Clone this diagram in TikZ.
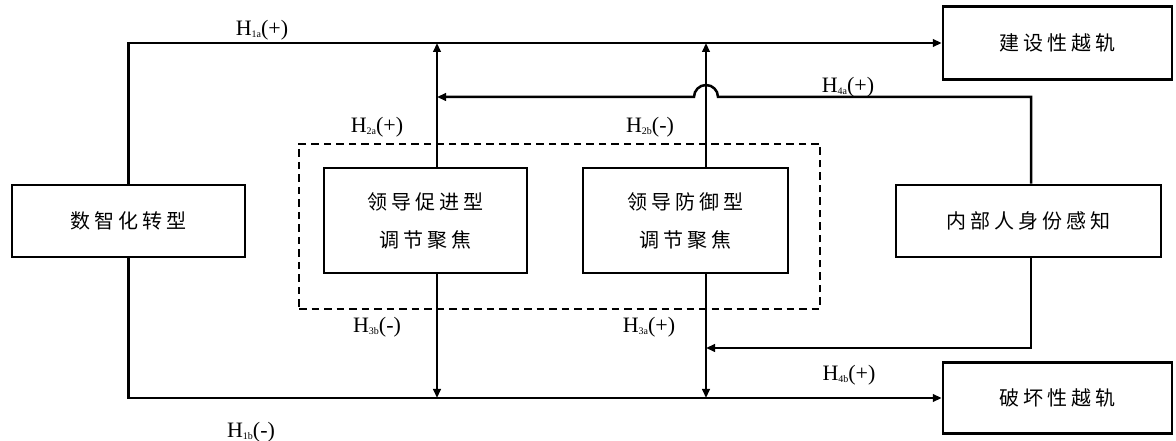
\documentclass[tikz,border=0pt]{standalone}
\usepackage{fontspec}
\setmainfont{Liberation Serif}
\newfontfamily\cjk[LetterSpace=20]{Noto Sans CJK SC}
\usetikzlibrary{arrows.meta,positioning}
\tikzstyle{box}=[rectangle,draw=black,line width=2.5pt,align=center,
  font=\cjk\fontsize{20}{38}\selectfont,inner sep=0pt]
\tikzstyle{group}=[rectangle,draw=black,line width=2pt,dash pattern=on 7.5pt off 5pt]
\tikzstyle{arrow}=[-{Triangle[length=9pt,width=7.5pt]},line width=2.5pt]
\tikzstyle{tag}=[font=\fontsize{22}{22}\selectfont,inner sep=0pt]
\newcommand{\hyp}[2]{H\raisebox{-2pt}{\fontsize{10}{10}\selectfont #1}(#2)}

\begin{document}
\begin{tikzpicture}[x=1pt,y=1pt]
  \useasboundingbox (0,0) rectangle (1176,441);

  % Rahmen
  \node[group,minimum width=521pt,minimum height=165pt] (focus) at (559.5,214.5) {};

  % Kaesten
  \node[box,minimum width=233pt,minimum height=72pt]  (digital) at (128.5,220)  {数智化转型};
  \node[box,minimum width=203pt,minimum height=105pt] (promo)   at (425.5,220.5) {领导促进型\\调节聚焦};
  \node[box,minimum width=205pt,minimum height=105pt] (prev)    at (685.5,220.5) {领导防御型\\调节聚焦};
  \node[box,minimum width=265pt,minimum height=72pt]  (insider) at (1028.5,220) {内部人身份感知};
  \node[box,minimum width=229pt,minimum height=73pt]  (constr)  at (1057.5,398) {建设性越轨};
  \node[box,minimum width=229pt,minimum height=71pt]  (destr)   at (1057.5,43)  {破坏性越轨};

  \coordinate (pUp)   at ([xshift=11.5pt]promo.north);
  \coordinate (pDown) at ([xshift=11.5pt]promo.south);
  \coordinate (vUp)   at ([xshift=20.5pt]prev.north);
  \coordinate (vDown) at ([xshift=20.5pt]prev.south);
  \coordinate (hop)   at (vUp |- 0,344);

  % Pfeile
  \draw[arrow] (digital.north) |- (constr.west);
  \draw[arrow] (digital.south) |- (destr.west);
  \draw[arrow] (pUp) -- (pUp |- constr.west);
  \draw[arrow] (pDown) -- (pDown |- destr.west);
  \draw[arrow] (vUp) -- (vUp |- constr.west);
  \draw[arrow] (vDown) -- (vDown |- destr.west);
  \draw[arrow] ([xshift=2.5pt]insider.north) |- ([xshift=12pt]hop)
    arc[start angle=0,end angle=180,radius=12pt] -- (hop -| pUp);
  \draw[arrow] ([xshift=2.5pt]insider.south) |- (vDown |- 0,93);

  % Beschriftungen
  \node[tag] (l1a) at (262,411) {\hyp{1a}{+}};
  \node[tag] (l2a) at (377,314) {\hyp{2a}{+}};
  \node[tag] (l2b) at (650,314) {\hyp{2b}{-}};
  \node[tag] (l4a) at (848,354) {\hyp{4a}{+}};
  \node[tag] (l3b) at (377,114) {\hyp{3b}{-}};
  \node[tag] (l3a) at (649,114) {\hyp{3a}{+}};
  \node[tag] (l4b) at (849,66)  {\hyp{4b}{+}};
  \node[tag] (l1b) at (251,9)   {\hyp{1b}{-}};

\end{tikzpicture}
\end{document}
